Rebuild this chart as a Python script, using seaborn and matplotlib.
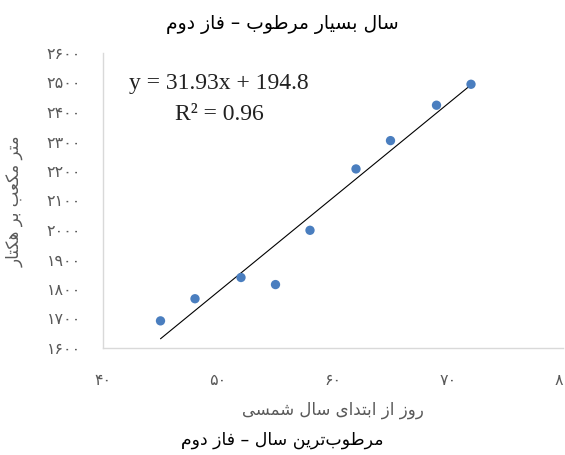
import numpy as np
import pandas as pd
import seaborn as sns
import matplotlib
matplotlib.use("Agg")
import matplotlib.pyplot as plt

# ---------------- data ----------------
days = [45, 48, 52, 55, 58, 62, 65, 69, 72]
volume = [1692, 1767, 1839, 1815, 1999, 2207, 2303, 2423, 2494]
x_ticks = [40, 50, 60, 70, 80]
y_ticks = [1600, 1700, 1800, 1900, 2000, 2100, 2200, 2300, 2400, 2500, 2600]
title_text = "سال بسیار مرطوب – فاز دوم"
caption_text = "مرطوب‌ترین سال – فاز دوم"
x_label_text = "روز از ابتدای سال شمسی"
y_label_text = "متر مکعب بر هکتار"
eq_text = "y = 31.93x + 194.8"
r2_text = "R² = 0.96"

# ------------- Arabic-script shaping (matplotlib has no complex text layout) -------------
FORMS = {  # isolated, final, initial, medial
    "\u0627": ("\uFE8D", "\uFE8E", None, None),
    "\u0628": ("\uFE8F", "\uFE90", "\uFE91", "\uFE92"),
    "\u062A": ("\uFE95", "\uFE96", "\uFE97", "\uFE98"),
    "\u062F": ("\uFEA9", "\uFEAA", None, None),
    "\u0631": ("\uFEAD", "\uFEAE", None, None),
    "\u0632": ("\uFEAF", "\uFEB0", None, None),
    "\u0633": ("\uFEB1", "\uFEB2", "\uFEB3", "\uFEB4"),
    "\u0634": ("\uFEB5", "\uFEB6", "\uFEB7", "\uFEB8"),
    "\u0637": ("\uFEC1", "\uFEC2", "\uFEC3", "\uFEC4"),
    "\u0639": ("\uFEC9", "\uFECA", "\uFECB", "\uFECC"),
    "\u0641": ("\uFED1", "\uFED2", "\uFED3", "\uFED4"),
    "\u0644": ("\uFEDD", "\uFEDE", "\uFEDF", "\uFEE0"),
    "\u0645": ("\uFEE1", "\uFEE2", "\uFEE3", "\uFEE4"),
    "\u0646": ("\uFEE5", "\uFEE6", "\uFEE7", "\uFEE8"),
    "\u0647": ("\uFEE9", "\uFEEA", "\uFEEB", "\uFEEC"),
    "\u0648": ("\uFEED", "\uFEEE", None, None),
    "\u06A9": ("\uFB8E", "\uFB8F", "\uFB90", "\uFB91"),
    "\u06CC": ("\uFBFC", "\uFBFD", "\uFBFE", "\uFBFF"),
}


def _dual(c):
    return c in FORMS and FORMS[c][2] is not None


def shape(s):
    chars = list(s)
    out = []
    i = 0
    while i < len(chars):
        c = chars[i]
        prev = chars[i - 1] if i > 0 else None
        nxt = chars[i + 1] if i + 1 < len(chars) else None
        if c not in FORMS:
            if c != "\u200c":
                out.append(c)
            i += 1
            continue
        jp = prev is not None and _dual(prev)
        if c == "\u0644" and nxt == "\u0627":
            out.append("\uFEFC" if jp else "\uFEFB")
            i += 2
            continue
        jn = nxt is not None and _dual(c) and nxt in FORMS
        iso, fin, ini, med = FORMS[c]
        if jp and jn:
            out.append(med)
        elif jp:
            out.append(fin)
        elif jn:
            out.append(ini)
        else:
            out.append(iso)
        i += 1
    return "".join(reversed(out))


def fa_digits(n):
    return "".join(chr(0x06F0 + int(d)) for d in str(n))


# ---------------- plot ----------------
sns.set_style("white")
plt.rcParams["font.family"] = ["DejaVu Sans"]

df = pd.DataFrame({"day": days, "volume": volume})

fig = plt.figure(figsize=(5.65, 4.55), dpi=100)
ax = fig.add_axes([103 / 565, 1 - 348 / 455, (563 - 103) / 565, (348 - 53) / 455])

sns.regplot(data=df, x="day", y="volume", scatter=False, ci=None, truncate=True,
            color="black", line_kws={"linewidth": 0.8}, ax=ax)
sns.scatterplot(data=df, x="day", y="volume", color="#4a7ebf", s=45,
                edgecolor="none", ax=ax, zorder=3)

ax.set_xlim(40, 80)
ax.set_ylim(1600, 2600)
ax.set_xticks(x_ticks)
ax.set_xticklabels([fa_digits(v) for v in x_ticks])
ax.set_yticks(y_ticks)
ax.set_yticklabels([fa_digits(v) for v in y_ticks])
ax.tick_params(axis="both", length=0, labelsize=11.5, labelcolor="#595959")
ax.tick_params(axis="x", pad=18)
ax.tick_params(axis="y", pad=16)
ax.set_xlabel("")
ax.set_ylabel("")

for side in ["top", "right"]:
    ax.spines[side].set_visible(False)
for side in ["left", "bottom"]:
    ax.spines[side].set_color("#d9d9d9")
    ax.spines[side].set_linewidth(1.0)

# trendline label
fig.text(219 / 565, 1 - 83 / 455, eq_text, ha="center", va="center",
         fontsize=17, family=["Liberation Serif"], color="#222222")
fig.text(219 / 565, 1 - 114 / 455, r2_text, ha="center", va="center",
         fontsize=17, family=["Liberation Serif"], color="#222222")

# texts
fig.text(0.5, 1 - 25 / 455, shape(title_text), ha="center", va="center",
         fontsize=13.5, color="black")
fig.text(333 / 565, 1 - 410 / 455, shape(x_label_text), ha="center", va="center",
         fontsize=12, color="#595959")
fig.text(15 / 565, 1 - 201 / 455, shape(y_label_text), ha="center", va="center",
         rotation=90, fontsize=12, color="#595959")
fig.text(0.5, 1 - 440 / 455, shape(caption_text), ha="center", va="center",
         fontsize=12.5, color="black")

fig.savefig("out.png", dpi=100)
